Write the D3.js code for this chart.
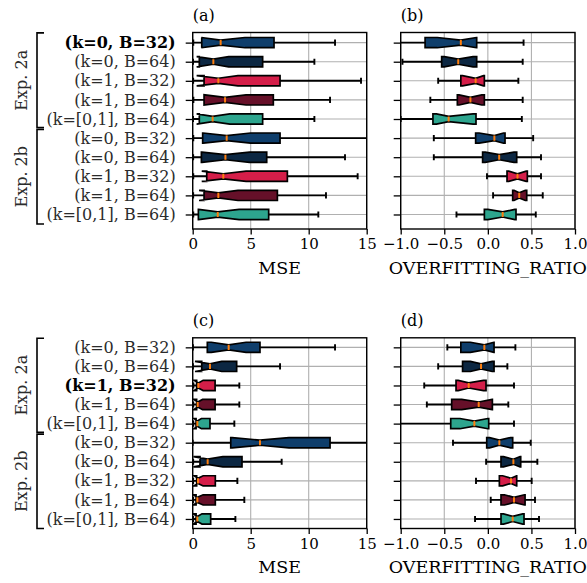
<!DOCTYPE html>
<html>
<head>
<meta charset="utf-8">
<script src="https://cdn.jsdelivr.net/npm/d3@7"></script>
<style>
  body { margin: 0; background: #fff; }
  svg { font-family: 'DejaVu Serif', serif; }
</style>
</head>
<body>
<svg id="viz"></svg>
<script>
const width = 587
const height = 583

const configLabels = [
  '(k=0, B=32)', '(k=0, B=64)', '(k=1, B=32)', '(k=1, B=64)', '(k=[0,1], B=64)',
  '(k=0, B=32)', '(k=0, B=64)', '(k=1, B=32)', '(k=1, B=64)', '(k=[0,1], B=64)'
]
const expGroups = ['Exp. 2a', 'Exp. 2b']
const mseTicks = [0, 5, 10, 15]
const ratioTicks = [-1, -0.5, 0, 0.5, 1]

// (a) MSE
const aLo = [0.05, 0.03, 0.04, 0.06, 0.03, 0.05, 0.04, 0.05, 0.04, 0.05]
const aQ1 = [0.78, 0.57, 0.98, 0.98, 0.57, 0.86, 0.75, 1.21, 0.98, 0.49]
const aNotchLo = [0.75, 0.34, 0.34, 0.98, 0.34, 0.9, 0.8, 0.78, 0.55, 0.5]
const aMed = [2.41, 1.78, 2.21, 2.79, 1.72, 2.93, 2.82, 2.64, 2.21, 2.16]
const aNotchHi = [4.5, 3.1, 3.9, 4.6, 3.2, 5.0, 4.9, 4.6, 3.9, 4.0]
const aQ3 = [7.01, 6.03, 7.53, 6.95, 6.03, 7.53, 6.38, 8.16, 7.3, 6.55]
const aHi = [12.27, 10.49, 14.51, 11.84, 10.49, 15.6, 13.13, 14.22, 11.49, 10.83]

// (b) overfitting ratio
const bLo = [-1.05, -0.98, -0.57, -0.66, -1.0, -0.62, -0.62, -0.01, 0.06, -0.36]
const bQ1 = [-0.72, -0.53, -0.31, -0.35, -0.63, -0.14, -0.06, 0.22, 0.285, -0.04]
const bNotchLo = [-0.58, -0.5, -0.29, -0.33, -0.59, -0.1, -0.03, 0.24, 0.3, 0.0]
const bMed = [-0.31, -0.34, -0.14, -0.2, -0.45, 0.075, 0.13, 0.34, 0.36, 0.17]
const bNotchHi = [-0.13, -0.17, -0.05, -0.07, -0.17, 0.18, 0.3, 0.44, 0.43, 0.31]
const bQ3 = [-0.128, -0.128, -0.04, -0.04, -0.136, 0.197, 0.331, 0.453, 0.446, 0.323]
const bHi = [0.41, 0.4, 0.35, 0.4, 0.39, 0.52, 0.61, 0.61, 0.63, 0.55]

// (c) MSE
const cLo = [0.02, 0.02, 0.06, 0.05, 0.05, 0.0, 0.04, 0.04, 0.04, 0.04]
const cQ1 = [1.26, 0.78, 0.34, 0.34, 0.29, 3.28, 0.63, 0.34, 0.29, 0.29]
const cNotchLo = [1.6, 0.2, 0.12, 0.1, 0.12, 3.4, 0.06, 0.1, 0.05, 0.05]
const cMed = [3.1, 1.49, 0.49, 0.43, 0.4, 5.8, 1.29, 0.46, 0.4, 0.4]
const cNotchHi = [4.6, 2.5, 0.9, 0.85, 0.75, 8.3, 2.6, 0.9, 0.9, 0.8]
const cQ3 = [5.8, 3.79, 1.93, 1.93, 1.49, 11.84, 4.25, 1.95, 1.95, 1.55]
const cHi = [12.27, 7.53, 4.02, 4.02, 3.59, 15.6, 7.67, 3.85, 4.45, 3.68]

// (d) overfitting ratio
const dLo = [-0.465, -0.57, -0.73, -0.7, -1.05, -0.4, -0.02, -0.136, 0.033, -0.147]
const dQ1 = [-0.31, -0.29, -0.365, -0.415, -0.426, -0.013, 0.151, 0.132, 0.151, 0.151]
const dNotchLo = [-0.2, -0.2, -0.34, -0.3, -0.32, 0.02, 0.18, 0.17, 0.19, 0.18]
const dMed = [-0.04, -0.078, -0.22, -0.105, -0.155, 0.132, 0.293, 0.266, 0.3, 0.285]
const dNotchHi = [0.07, 0.05, -0.05, 0.05, 0.0, 0.26, 0.37, 0.33, 0.42, 0.4]
const dQ3 = [0.071, 0.071, -0.021, 0.052, 0.01, 0.285, 0.377, 0.331, 0.427, 0.415]
const dHi = [0.316, 0.224, 0.3, 0.235, 0.3, 0.492, 0.568, 0.503, 0.541, 0.587]

const boxColors = ['#0f3e6b', '#0c2742', '#d41e49', '#661029', '#2da58e']

const svg = d3.select('#viz').attr('width', width).attr('height', height)

function rows(lo, q1, nlo, med, nhi, q3, hi) {
  return med.map((m, i) => ({
    i, lo: lo[i], q1: q1[i], nlo: nlo[i], med: m, nhi: nhi[i], q3: q3[i], hi: hi[i],
    color: boxColors[i % 5]
  }))
}

function drawPanel(p) {
  const x = d3.scaleLinear().domain(p.xDomain).range([p.left, p.right])
  const y = d3.scaleLinear().domain(p.rowDomain).range([p.top, p.bottom])
  const half = 5.1

  const g = svg.append('g')

  g.append('clipPath')
    .attr('id', 'clip-' + p.id)
    .append('rect')
    .attr('x', p.left)
    .attr('y', p.top)
    .attr('width', p.right - p.left)
    .attr('height', p.bottom - p.top)

  // grid
  g.append('g')
    .selectAll('line')
    .data(p.xTicks)
    .join('line')
    .attr('x1', (d) => x(d))
    .attr('x2', (d) => x(d))
    .attr('y1', p.top)
    .attr('y2', p.bottom)
    .attr('stroke', '#b0b0b0')
    .attr('stroke-width', 1.1)
  g.append('g')
    .selectAll('line')
    .data(d3.range(10))
    .join('line')
    .attr('x1', p.left)
    .attr('x2', p.right)
    .attr('y1', (d) => y(d))
    .attr('y2', (d) => y(d))
    .attr('stroke', '#b0b0b0')
    .attr('stroke-width', 1.1)

  const boxes = g.append('g')
    .attr('clip-path', `url(#clip-${p.id})`)
    .selectAll('g')
    .data(p.data)
    .join('g')

  // whiskers
  boxes.append('line')
    .attr('x1', (d) => x(d.lo))
    .attr('x2', (d) => x(d.q1))
    .attr('y1', (d) => y(d.i))
    .attr('y2', (d) => y(d.i))
    .attr('stroke', '#000')
    .attr('stroke-width', 1.9)
  boxes.append('line')
    .attr('x1', (d) => x(d.q3))
    .attr('x2', (d) => x(d.hi))
    .attr('y1', (d) => y(d.i))
    .attr('y2', (d) => y(d.i))
    .attr('stroke', '#000')
    .attr('stroke-width', 1.9)
  // caps
  boxes.selectAll('.cap')
    .data((d) => [{ v: d.lo, i: d.i }, { v: d.hi, i: d.i }])
    .join('line')
    .attr('class', 'cap')
    .attr('x1', (d) => x(d.v))
    .attr('x2', (d) => x(d.v))
    .attr('y1', (d) => y(d.i) - half / 2 - 0.5)
    .attr('y2', (d) => y(d.i) + half / 2 + 0.5)
    .attr('stroke', '#000')
    .attr('stroke-width', 1.9)

  // notched box, same outline order as matplotlib
  boxes.append('path')
    .attr('d', (d) => {
      const c = y(d.i)
      const pts = [
        [d.q1, -half], [d.q1, half], [d.nlo, half], [d.med, half / 2], [d.nhi, half],
        [d.q3, half], [d.q3, -half], [d.nhi, -half], [d.med, -half / 2], [d.nlo, -half], [d.q1, -half]
      ]
      return d3.line()(pts.map((q) => [x(q[0]), c + q[1]])) + 'Z'
    })
    .attr('fill', (d) => d.color)
    .attr('stroke', '#000')
    .attr('stroke-width', 1.7)
    .attr('stroke-linejoin', 'miter')

  // median
  boxes.append('line')
    .attr('x1', (d) => x(d.med))
    .attr('x2', (d) => x(d.med))
    .attr('y1', (d) => y(d.i) - half / 2)
    .attr('y2', (d) => y(d.i) + half / 2)
    .attr('stroke', '#ff7f0e')
    .attr('stroke-width', 2)

  // frame
  g.append('rect')
    .attr('x', p.left)
    .attr('y', p.top)
    .attr('width', p.right - p.left)
    .attr('height', p.bottom - p.top)
    .attr('fill', 'none')
    .attr('stroke', '#000')
    .attr('stroke-width', 1.4)

  // axes
  const xAxis = g.append('g')
    .attr('transform', `translate(0, ${p.bottom})`)
    .call(d3.axisBottom(x).tickValues(p.xTicks).tickFormat(p.xFormat).tickSize(5.5).tickPadding(4))
  xAxis.select('.domain').remove()
  xAxis.selectAll('line').attr('stroke-width', 1.3)
  xAxis.selectAll('text')
    .attr('font-family', 'DejaVu Serif')
    .attr('font-size', 15)
    .attr('fill', '#000')

  const yAxis = g.append('g')
    .attr('transform', `translate(${p.left}, 0)`)
    .call(d3.axisLeft(y).tickValues(d3.range(10)).tickFormat((d) => (p.showLabels ? configLabels[d] : '')).tickSize(7).tickPadding(10))
  yAxis.select('.domain').remove()
  yAxis.selectAll('line').attr('stroke-width', 1.3)
  yAxis.selectAll('text')
    .attr('font-family', 'DejaVu Serif')
    .attr('font-size', 16)
    .attr('fill', (d) => (d === p.boldRow ? '#000' : '#2b2b2b'))
    .attr('font-weight', (d) => (d === p.boldRow ? 'bold' : 'normal'))

  // title and axis label
  g.append('text')
    .attr('x', p.left)
    .attr('y', p.top - 12)
    .attr('font-size', 16)
    .text(p.title)
  g.append('text')
    .attr('x', (p.left + p.right) / 2)
    .attr('y', p.bottom + 44.5)
    .attr('text-anchor', 'middle')
    .attr('font-size', 17.5)
    .text(p.xLabel)

  // experiment brackets
  if (p.showLabels) {
    const spans = [[p.rowDomain[0] + 0.02, 4.45], [4.55, 9.5]]
    spans.forEach((s, k) => {
      g.append('path')
        .attr('d', `M44,${y(s[0])} H37 V${y(s[1])} H44`)
        .attr('fill', 'none')
        .attr('stroke', '#000')
        .attr('stroke-width', 1.6)
      const cy = (y(s[0]) + y(s[1])) / 2
      g.append('text')
        .attr('transform', `translate(21, ${cy}) rotate(-90)`)
        .attr('text-anchor', 'middle')
        .attr('dominant-baseline', 'central')
        .attr('font-size', 16)
        .attr('fill', '#2b2b2b')
        .text(expGroups[k])
    })
  }
}

const mseFormat = d3.format('d')
const ratioFormat = d3.format('.1f')

drawPanel({
  id: 'a', left: 192.7, right: 366.7, top: 32.5, bottom: 229, rowDomain: [-0.53, 9.76],
  xDomain: [0, 15], xTicks: mseTicks, xFormat: mseFormat, title: '(a)', xLabel: 'MSE',
  showLabels: true, boldRow: 0, data: rows(aLo, aQ1, aNotchLo, aMed, aNotchHi, aQ3, aHi)
})
drawPanel({
  id: 'b', left: 400.7, right: 575, top: 32.5, bottom: 229, rowDomain: [-0.53, 9.76],
  xDomain: [-1, 1], xTicks: ratioTicks, xFormat: ratioFormat, title: '(b)', xLabel: 'OVERFITTING_RATIO',
  showLabels: false, boldRow: -1, data: rows(bLo, bQ1, bNotchLo, bMed, bNotchHi, bQ3, bHi)
})
drawPanel({
  id: 'c', left: 192.7, right: 366.7, top: 337.8, bottom: 528.5, rowDomain: [-0.5, 9.5],
  xDomain: [0, 15], xTicks: mseTicks, xFormat: mseFormat, title: '(c)', xLabel: 'MSE',
  showLabels: true, boldRow: 2, data: rows(cLo, cQ1, cNotchLo, cMed, cNotchHi, cQ3, cHi)
})
drawPanel({
  id: 'd', left: 400.7, right: 575, top: 337.8, bottom: 528.5, rowDomain: [-0.5, 9.5],
  xDomain: [-1, 1], xTicks: ratioTicks, xFormat: ratioFormat, title: '(d)', xLabel: 'OVERFITTING_RATIO',
  showLabels: false, boldRow: -1, data: rows(dLo, dQ1, dNotchLo, dMed, dNotchHi, dQ3, dHi)
})
</script>
</body>
</html>
